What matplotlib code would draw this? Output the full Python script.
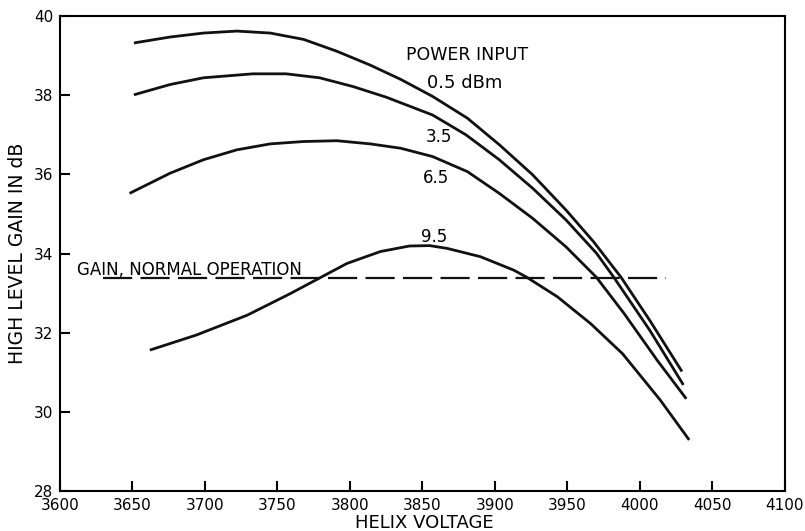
"""Helix voltage vs high level gain for four input power levels."""
import matplotlib
matplotlib.use("Agg")
import matplotlib.pyplot as plt

# values, helix voltage (V) and gain (dB)
V_05 = [3651, 3676, 3699, 3722, 3745, 3768, 3791, 3814, 3835, 3857, 3881, 3903, 3926, 3949, 3968, 3987, 4007, 4029]
G_05 = [39.32, 39.47, 39.57, 39.62, 39.57, 39.41, 39.11, 38.76, 38.40, 37.97, 37.42, 36.75, 35.99, 35.10, 34.30, 33.40, 32.30, 31.02]

V_35 = [3651, 3676, 3699, 3733, 3756, 3779, 3802, 3825, 3857, 3880, 3903, 3926, 3949, 3970, 3982, 4007, 4030]
G_35 = [38.01, 38.27, 38.44, 38.54, 38.54, 38.44, 38.22, 37.95, 37.50, 37.00, 36.37, 35.65, 34.85, 34.01, 33.40, 32.05, 30.68]

V_65 = [3648, 3676, 3699, 3722, 3745, 3768, 3791, 3814, 3835, 3857, 3881, 3903, 3926, 3949, 3970, 3989, 4012, 4032]
G_65 = [35.52, 36.03, 36.37, 36.62, 36.77, 36.83, 36.85, 36.77, 36.66, 36.45, 36.07, 35.52, 34.89, 34.17, 33.40, 32.49, 31.30, 30.33]

V_95 = [3662, 3694, 3729, 3759, 3779, 3798, 3821, 3841, 3855, 3867, 3890, 3913, 3922, 3943, 3966, 3988, 4014, 4034]
G_95 = [31.56, 31.94, 32.44, 32.99, 33.38, 33.75, 34.05, 34.19, 34.20, 34.13, 33.92, 33.58, 33.40, 32.91, 32.23, 31.47, 30.30, 29.29]

NORMAL_GAIN = 33.39
NORMAL_SPAN = [3630, 4018]

CURVES = [(V_05, G_05), (V_35, G_35), (V_65, G_65), (V_95, G_95)]
X_TICKS = list(range(3600, 4101, 50))
Y_TICKS = list(range(28, 41, 2))

plt.rcParams["font.family"] = "DejaVu Sans"
plt.rcParams["lines.scale_dashes"] = False

fig = plt.figure(figsize=(8.05, 5.31), dpi=100)
ax = fig.add_axes([0.0745, 0.0753, 0.9005, 0.8945])

for v, g in CURVES:
    ax.plot(v, g, color="#111111", lw=2.0, solid_capstyle="butt",
            solid_joinstyle="round")

ax.plot(NORMAL_SPAN, [NORMAL_GAIN, NORMAL_GAIN], color="#111111", lw=1.6,
        linestyle=(0, (21, 6)))

ax.set_xlim(3600, 4100)
ax.set_ylim(28, 40)
ax.set_xticks(X_TICKS)
ax.set_yticks(Y_TICKS)
ax.tick_params(direction="in", length=7, width=1.5, labelsize=11, pad=5)
for s in ax.spines.values():
    s.set_linewidth(1.5)

ax.set_xlabel("HELIX VOLTAGE", fontsize=13, va="baseline")
ax.xaxis.set_label_coords(0.502, -0.078)
ax.set_ylabel("HIGH LEVEL GAIN IN dB", fontsize=13.5, labelpad=5)

ax.text(3839, 38.90, "POWER INPUT", fontsize=12.5, va="baseline", ha="left")
ax.text(3853, 38.19, "0.5 dBm", fontsize=13, va="baseline", ha="left")
ax.text(3852, 36.81, "3.5", fontsize=12, va="baseline", ha="left")
ax.text(3850, 35.79, "6.5", fontsize=12, va="baseline", ha="left")
ax.text(3849, 34.30, "9.5", fontsize=12, va="baseline", ha="left")
ax.text(3612, 33.46, "GAIN, NORMAL OPERATION", fontsize=12, va="baseline", ha="left")

fig.savefig("out.png", dpi=100)
plt.close(fig)
